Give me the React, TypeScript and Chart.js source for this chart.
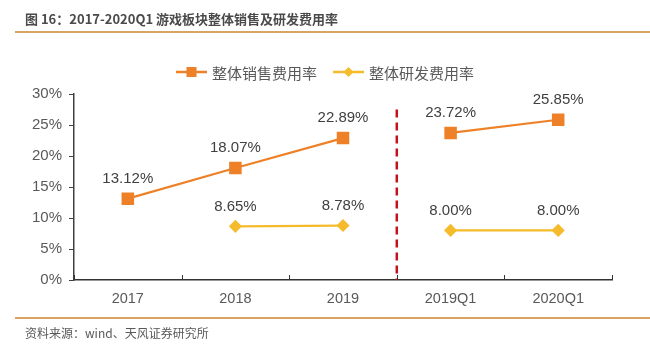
import React, { useEffect, useRef } from 'react';
import { Chart, registerables } from 'chart.js';

Chart.register(...registerables);

const titleText = '图 16：2017-2020Q1 游戏板块整体销售及研发费用率';
const sourceText = '资料来源：wind、天风证券研究所';
const categories = ['2017', '2018', '2019', '2019Q1', '2020Q1'];
const seriesNames = ['整体销售费用率', '整体研发费用率'];
const salesRate: (number | null)[] = [13.12, 18.07, 22.89, 23.72, 25.85];
const rdRate: (number | null)[] = [null, 8.65, 8.78, 8.0, 8.0];
const yMin = 0;
const yMax = 30;
const yStep = 5;
const breakAfterIndex = 2;
const dividerTopValue = 27.5;

const ORANGE = '#EE8127';
const YELLOW = '#F6BB2C';
const DIVIDER = '#C0131B';

const hideBreak = (c: any) => (c.p0DataIndex === breakAfterIndex ? 'rgba(0,0,0,0)' : undefined);

export default function App() {
  const ref = useRef<HTMLCanvasElement | null>(null);

  useEffect(() => {
    if (!ref.current) return;

    const dividerPlugin = {
      id: 'divider',
      beforeDatasetsDraw(chart: any) {
        const x = chart.scales.x;
        const y = chart.scales.y;
        const ctx = chart.ctx;
        const px = (x.getPixelForValue(breakAfterIndex) + x.getPixelForValue(breakAfterIndex + 1)) / 2;
        ctx.save();
        ctx.strokeStyle = DIVIDER;
        ctx.lineWidth = 2.5;
        ctx.setLineDash([8, 5]);
        ctx.beginPath();
        ctx.moveTo(px, y.getPixelForValue(dividerTopValue));
        ctx.lineTo(px, y.bottom);
        ctx.stroke();
        ctx.restore();
      },
    };

    const xTickPlugin = {
      id: 'xTicks',
      afterDraw(chart: any) {
        const x = chart.scales.x;
        const ctx = chart.ctx;
        ctx.save();
        ctx.strokeStyle = '#333';
        ctx.lineWidth = 1;
        for (let i = 0; i <= categories.length; i++) {
          const px = Math.round(x.getPixelForValue(i - 0.5)) + 0.5;
          ctx.beginPath();
          ctx.moveTo(px, x.top);
          ctx.lineTo(px, x.top - 5);
          ctx.stroke();
        }
        ctx.restore();
      },
    };

    const labelPlugin = {
      id: 'pointLabels',
      afterDatasetsDraw(chart: any) {
        const ctx = chart.ctx;
        ctx.save();
        ctx.font = '15px "Liberation Sans", Arial, sans-serif';
        ctx.fillStyle = '#404040';
        ctx.textAlign = 'center';
        ctx.textBaseline = 'middle';
        chart.data.datasets.forEach((ds: any, di: number) => {
          const meta = chart.getDatasetMeta(di);
          meta.data.forEach((pt: any, i: number) => {
            const v = ds.data[i];
            if (v === null || v === undefined) return;
            ctx.fillText(v.toFixed(2) + '%', pt.x, pt.y - 20);
          });
        });
        ctx.restore();
      },
    };

    const legendPlugin = {
      id: 'customLegend',
      afterDraw(chart: any) {
        const ctx = chart.ctx;
        const cy = 72;
        const iconW = 31;
        const gap = 5;
        const itemGap = 16;
        ctx.save();
        ctx.font = '15px "Noto Sans CJK SC", sans-serif';
        const widths = seriesNames.map((n) => ctx.measureText(n).width);
        const total = widths.reduce((a, w) => a + iconW + gap + w, 0) + itemGap * (seriesNames.length - 1);
        let x = chart.width / 2 - total / 2;
        chart.data.datasets.forEach((ds: any, i: number) => {
          ctx.strokeStyle = ds.borderColor;
          ctx.fillStyle = ds.borderColor;
          ctx.lineWidth = 2.5;
          ctx.beginPath();
          ctx.moveTo(x, cy);
          ctx.lineTo(x + iconW, cy);
          ctx.stroke();
          const mx = x + iconW / 2;
          ctx.beginPath();
          if (i === 0) {
            ctx.rect(mx - 5, cy - 5, 10, 10);
          } else {
            ctx.moveTo(mx, cy - 5);
            ctx.lineTo(mx + 5, cy);
            ctx.lineTo(mx, cy + 5);
            ctx.lineTo(mx - 5, cy);
            ctx.closePath();
          }
          ctx.fill();
          ctx.fillStyle = '#595959';
          ctx.textAlign = 'left';
          ctx.textBaseline = 'middle';
          ctx.fillText(seriesNames[i], x + iconW + gap, cy + 1);
          x += iconW + gap + widths[i] + itemGap;
        });
        ctx.restore();
      },
    };

    const chart = new Chart(ref.current, {
      type: 'line',
      data: {
        labels: categories,
        datasets: [
          {
            label: seriesNames[0],
            data: salesRate,
            borderColor: ORANGE,
            backgroundColor: ORANGE,
            borderWidth: 2.2,
            pointStyle: 'rect',
            pointRadius: 7.3,
            pointHoverRadius: 7.3,
            spanGaps: false,
            segment: { borderColor: hideBreak },
          },
          {
            label: seriesNames[1],
            data: rdRate,
            borderColor: YELLOW,
            backgroundColor: YELLOW,
            borderWidth: 2.2,
            pointStyle: 'rectRot',
            pointRadius: 5,
            pointHoverRadius: 5,
            spanGaps: false,
            segment: { borderColor: hideBreak },
          },
        ],
      },
      options: {
        animation: false,
        responsive: false,
        maintainAspectRatio: false,
        events: [],
        layout: { padding: { top: 94, right: 38, left: 0, bottom: 0 } },
        plugins: {
          legend: { display: false },
          tooltip: { enabled: false },
        },
        scales: {
          x: {
            offset: true,
            grid: { display: false, drawTicks: false, tickLength: 0 },
            border: { display: true, color: '#333', width: 1.5 },
            ticks: {
              color: '#595959',
              padding: 10,
              font: { size: 14.5, family: '"Liberation Sans", Arial, sans-serif' },
              maxRotation: 0,
            },
            afterFit: (s: any) => {
              s.height = 76;
            },
          },
          y: {
            min: yMin,
            max: yMax,
            ticks: {
              stepSize: yStep,
              color: '#595959',
              padding: 7,
              font: { size: 15, family: '"Liberation Sans", Arial, sans-serif' },
              callback: (v: any) => v + '%',
            },
            grid: { display: true, drawOnChartArea: false, drawTicks: true, tickLength: 5, color: '#404040' },
            border: { display: true, color: '#404040', width: 1.5 },
            afterFit: (s: any) => {
              s.width = 74;
            },
          },
        },
      },
      plugins: [dividerPlugin, labelPlugin, xTickPlugin, legendPlugin],
    });

    return () => chart.destroy();
  }, []);

  return (
    <div style={{ position: 'fixed', left: 0, top: 0, width: 650, height: 356, background: '#fff', overflow: 'hidden' }}>
      <canvas ref={ref} width={650} height={356} style={{ position: 'absolute', left: 0, top: 0, width: 650, height: 356 }} />
      <div
        style={{
          position: 'absolute',
          left: 25,
          top: 9,
          fontFamily: '"Noto Sans CJK SC", sans-serif',
          fontWeight: 'bold',
          fontSize: 13,
          lineHeight: '20px',
          color: '#4a4a4a',
          whiteSpace: 'nowrap',
        }}
      >
        {titleText}
      </div>
      <div style={{ position: 'absolute', left: 15, right: 0, top: 31, height: 1.5, background: '#D9A462' }} />
      <div style={{ position: 'absolute', left: 15, right: 0, top: 317, height: 1.5, background: '#D9A462' }} />
      <div
        style={{
          position: 'absolute',
          left: 25,
          top: 324,
          fontFamily: '"Noto Sans CJK SC", sans-serif',
          fontSize: 12,
          lineHeight: '18px',
          color: '#595959',
          whiteSpace: 'nowrap',
        }}
      >
        {sourceText}
      </div>
    </div>
  );
}
